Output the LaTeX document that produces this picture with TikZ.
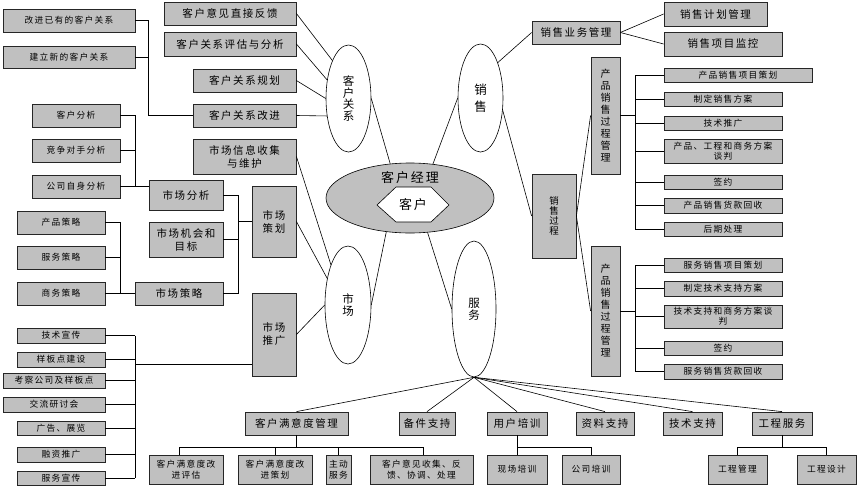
\documentclass[tikz,border=0pt]{standalone}
\usepackage{fontspec}
\setmainfont{Noto Sans CJK SC}
\newfontfamily\dafont{Noto Sans CJK SC}[LetterSpace=15]
\usetikzlibrary{shapes.geometric}
\definecolor{boxgray}{RGB}{192,192,192}

\begin{document}
\begin{tikzpicture}[x=1pt,y=-1pt,
   kuang/.style={draw=black!85,line width=0.8pt,fill=boxgray,inner sep=1pt,align=center},
   dakuang/.style={kuang,font=\dafont\fontsize{10.5}{13}\selectfont},
   xiaokuang/.style={kuang,font=\dafont\fontsize{8.7}{10.5}\selectfont},
   quan/.style={ellipse,draw,line width=0.6pt,fill=white,inner sep=0pt,align=center,font=\fontsize{11.5}{11.7}\selectfont},
   xian/.style={line width=0.6pt}]
   \useasboundingbox (0,0) rectangle (859,488);

   % 客户经理
   \node[quan,fill=boxgray,minimum width=168,minimum height=70] (km) at (410,198) {};
   \node[font=\dafont\fontsize{13}{13}\selectfont] (kmt) at (410,178) {客户经理};
   \draw[xian,fill=white] (377,205) -- (396,187) -- (431,187) -- (449,205) -- (431,222) -- (396,222) -- cycle;
   \node[font=\dafont\fontsize{13}{13}\selectfont] (kh) at (413,205) {客户};

   % 四个椭圆
   \node[quan,minimum width=45,minimum height=107] (kr) at (348.5,98.5) {客\\户\\关\\系};
   \node[quan,minimum width=45,minimum height=108,font=\fontsize{12.5}{17}\selectfont] (xs) at (480.5,98) {销\\售};
   \node[quan,minimum width=46,minimum height=118] (sc) at (348,305) {市\\场};
   \node[quan,minimum width=44,minimum height=136] (fw) at (474,309) {服\\务};

   % 客户关系
   \node[xiaokuang,minimum width=132,minimum height=23] (gj) at (69,20.5) {改进已有的客户关系};
   \node[xiaokuang,minimum width=132,minimum height=22] (jl) at (69,57) {建立新的客户关系};
   \node[dakuang,minimum width=132,minimum height=23] (fk) at (230,13.5) {客户意见直接反馈};
   \node[dakuang,minimum width=132,minimum height=24] (pg) at (230,44) {客户关系评估与分析};
   \node[dakuang,minimum width=103,minimum height=23] (gh) at (244.5,80.5) {客户关系规划};
   \node[dakuang,minimum width=103,minimum height=23] (gjn) at (244.5,115.5) {客户关系改进};
   \draw[xian] (gj.east) -- ++(13,0) coordinate (b0) |- (gjn.west);
   \draw[xian] (jl.east) -- (jl.east -| b0);
   \draw[xian] (fk.east) -- (kr.113);
   \draw[xian] (pg.east) -- (kr.139);
   \draw[xian] (gh.east) -- (kr.180);
   \draw[xian] (gjn.east) -- (kr.219);
   \draw[xian] (kr.east) -- (km.120);

   % 市场
   \node[dakuang,minimum width=103,minimum height=35] (xx) at (244.5,156.5) {市场信息收集\\与维护};
   \node[xiaokuang,minimum width=88,minimum height=23] (khfx) at (76,115.5) {客户分析};
   \node[xiaokuang,minimum width=88,minimum height=23] (jzfx) at (76,150.5) {竞争对手分析};
   \node[xiaokuang,minimum width=88,minimum height=23] (zsfx) at (76,186.5) {公司自身分析};
   \node[dakuang,minimum width=74,minimum height=30] (scfx) at (186,195) {市场分析};
   \node[dakuang,minimum width=74,minimum height=35] (jh) at (186,239.5) {市场机会和\\目标};
   \node[dakuang,minimum width=88,minimum height=23] (cl) at (179,293.5) {市场策略};
   \node[xiaokuang,minimum width=88,minimum height=23] (cpcl) at (61,222.5) {产品策略};
   \node[xiaokuang,minimum width=88,minimum height=23] (fwcl) at (61,257.5) {服务策略};
   \node[xiaokuang,minimum width=88,minimum height=23] (swcl) at (61,293.5) {商务策略};
   \node[dakuang,minimum width=44,minimum height=71] (sccj) at (274,221.5) {市场\\策划};
   \node[dakuang,minimum width=44,minimum height=83] (sctg) at (274,334.5) {市场\\推广};
   \draw[xian] (khfx.east) -- ++(15,0) coordinate (b1) -- (b1 |- zsfx.east);
   \draw[xian] (jzfx.east) -- (jzfx.east -| b1);
   \draw[xian] (zsfx.east) -- (zsfx.east -| scfx.west);
   \draw[xian] (cpcl.east) -- ++(15,0) coordinate (b2) -- (b2 |- swcl.east);
   \draw[xian] (fwcl.east) -- (fwcl.east -| b2);
   \draw[xian] (swcl.east) -- (cl.west);
   \draw[xian] (scfx.east) -- ++(15,0) coordinate (b3) -- (b3 |- cl.east);
   \draw[xian] (jh.east) -- (jh.east -| b3);
   \draw[xian] (cl.east) -- (b3 |- cl.east);
   \draw[xian] (b3 |- sccj.west) -- (sccj.west);

   % 市场推广
   \node[xiaokuang,minimum width=88,minimum height=15] (t1) at (61,335.5) {技术宣传};
   \node[xiaokuang,minimum width=88,minimum height=15] (t2) at (61,359.5) {样板点建设};
   \node[xiaokuang,minimum width=102,minimum height=15] (t3) at (54,380.5) {考察公司及样板点};
   \node[xiaokuang,minimum width=102,minimum height=15] (t4) at (54,404.5) {交流研讨会};
   \node[xiaokuang,minimum width=88,minimum height=14] (t5) at (61,428) {广告、展览};
   \node[xiaokuang,minimum width=88,minimum height=15] (t6) at (61,454.5) {融资推广};
   \node[xiaokuang,minimum width=88,minimum height=14] (t7) at (61,478) {服务宣传};
   \coordinate (tb) at (135,364);
   \foreach \n in {t1,t2,t3,t4,t5,t6,t7}
      \draw[xian] (\n.east) -- (\n.east -| tb);
   \draw[xian] (t1.east -| tb) -- (t7.east -| tb);
   \draw[xian] (tb) -- (tb -| sctg.west);
   \draw[xian] (xx.east) -- (sc.113);
   \draw[xian] (sccj.east) -- (sc.128);
   \draw[xian] (sctg.east) -- (sc.west);
   \draw[xian] (sc.east) -- (km.235);

   % 销售
   \node[dakuang,minimum width=88,minimum height=23] (ywgl) at (576,32.5) {销售业务管理};
   \node[dakuang,minimum width=103,minimum height=24] (jhgl) at (715.5,14) {销售计划管理};
   \node[dakuang,minimum width=118,minimum height=24] (xmjk) at (723,44) {销售项目监控};
   \node[kuang,minimum width=44,minimum height=84,font=\fontsize{9.5}{10}\selectfont] (xsgc) at (554,216) {销\\售\\过\\程};
   \node[kuang,minimum width=29,minimum height=117,font=\fontsize{10}{12}\selectfont] (cpgl) at (605.5,115.5) {产\\品\\销\\售\\过\\程\\管\\理};
   \node[kuang,minimum width=29,minimum height=130,font=\fontsize{10}{12}\selectfont] (fwgl) at (605.5,311) {产\\品\\销\\售\\过\\程\\管\\理};
   \draw[xian] (ywgl.east) -- (jhgl.west);
   \draw[xian] (ywgl.east) -- (xmjk.west);
   \draw[xian] (xs.64) -- (ywgl.west);
   \draw[xian] (xs.west) -- (km.56);
   \draw[xian] (xs.331) -- (xsgc.west);
   \draw[xian] (xsgc.east) -- (cpgl.west);
   \draw[xian] (xsgc.east) -- (fwgl.west);

   % 产品销售过程管理
   \node[xiaokuang,minimum width=148,minimum height=14] (a1) at (738,75) {产品销售项目策划};
   \node[xiaokuang,minimum width=118,minimum height=14] (a2) at (723,99) {制定销售方案};
   \node[xiaokuang,minimum width=118,minimum height=14] (a3) at (723,123) {技术推广};
   \node[xiaokuang,minimum width=118,minimum height=24,font=\dafont\fontsize{8.7}{10}\selectfont] (a4) at (723,151) {产品、工程和商务方案\\谈判};
   \node[xiaokuang,minimum width=118,minimum height=14] (a5) at (723,182) {签约};
   \node[xiaokuang,minimum width=118,minimum height=15] (a6) at (723,205.5) {产品销售货款回收};
   \node[xiaokuang,minimum width=118,minimum height=14] (a7) at (723,229) {后期处理};
   \coordinate (rb) at (635,0);
   \foreach \n in {a1,a2,a3,a4,a5,a6,a7}
      \draw[xian] (\n.west) -- (\n.west -| rb);
   \draw[xian] (a1.west -| rb) -- (a7.west -| rb);
   \draw[xian] (cpgl.east) -- (cpgl.east -| rb);

   % 服务销售
   \node[xiaokuang,minimum width=118,minimum height=14] (c1) at (723,265) {服务销售项目策划};
   \node[xiaokuang,minimum width=118,minimum height=15] (c2) at (723,288.5) {制定技术支持方案};
   \node[xiaokuang,minimum width=118,minimum height=23,font=\dafont\fontsize{8.7}{10}\selectfont] (c3) at (723,316.5) {技术支持和商务方案谈\\判};
   \node[xiaokuang,minimum width=118,minimum height=14] (c4) at (723,348) {签约};
   \node[xiaokuang,minimum width=118,minimum height=15] (c5) at (723,371.5) {服务销售货款回收};
   \foreach \n in {c1,c2,c3,c4,c5}
      \draw[xian] (\n.west) -- (\n.west -| rb);
   \draw[xian] (c1.west -| rb) -- (c5.west -| rb);
   \draw[xian] (fwgl.east) -- (fwgl.east -| rb);

   % 服务
   \node[dakuang,minimum width=103,minimum height=23] (myd) at (296.5,423.5) {客户满意度管理};
   \node[dakuang,minimum width=56,minimum height=23] (bj) at (427,423.5) {备件支持};
   \node[dakuang,minimum width=60,minimum height=23] (px) at (517,423.5) {用户培训};
   \node[dakuang,minimum width=58,minimum height=23] (zl) at (605,423.5) {资料支持};
   \node[dakuang,minimum width=59,minimum height=23] (js) at (692.5,423.5) {技术支持};
   \node[dakuang,minimum width=60,minimum height=23] (gc) at (782,423.5) {工程服务};
   \draw[xian] (fw.west) -- (km.297);
   \foreach \n in {myd,bj,px,zl,js,gc}
      \draw[xian] (fw.south) -- (\n.north);

   \node[xiaokuang,minimum width=74,minimum height=29] (pg2) at (186,469.5) {客户满意度改\\进评估};
   \node[xiaokuang,minimum width=74,minimum height=29] (ch2) at (275,469.5) {客户满意度改\\进策划};
   \node[xiaokuang,minimum width=25,minimum height=29] (zd) at (338.5,469.5) {主动\\服务};
   \node[xiaokuang,minimum width=103,minimum height=29] (yj) at (421.5,469.5) {客户意见收集、反\\馈、协调、处理};
   \node[xiaokuang,minimum width=60,minimum height=29] (xc) at (517,469.5) {现场培训};
   \node[xiaokuang,minimum width=58,minimum height=29] (gs) at (591,469.5) {公司培训};
   \node[xiaokuang,minimum width=59,minimum height=29] (gcgl) at (737.5,469.5) {工程管理};
   \node[xiaokuang,minimum width=59,minimum height=29] (gcsj) at (826.5,469.5) {工程设计};
   \coordinate (mb) at (0,447);
   \draw[xian] (myd.south) -- (myd.south |- mb);
   \draw[xian] ([xshift=-7pt]pg2.north) |- ([xshift=2pt]yj.north |- mb) -- ([xshift=2pt]yj.north);
   \foreach \n in {ch2,zd}
      \draw[xian] (\n.north) -- (\n.north |- mb);
   \draw[xian] (px.south) -- (xc.north);
   \draw[xian] (xc.north |- mb) -- (gs.north |- mb) -- (gs.north);
   \draw[xian] (gc.south) -- (gc.south |- mb);
   \draw[xian] (gcgl.north) |- (gcsj.north |- mb) -- (gcsj.north);

\end{tikzpicture}
\end{document}
